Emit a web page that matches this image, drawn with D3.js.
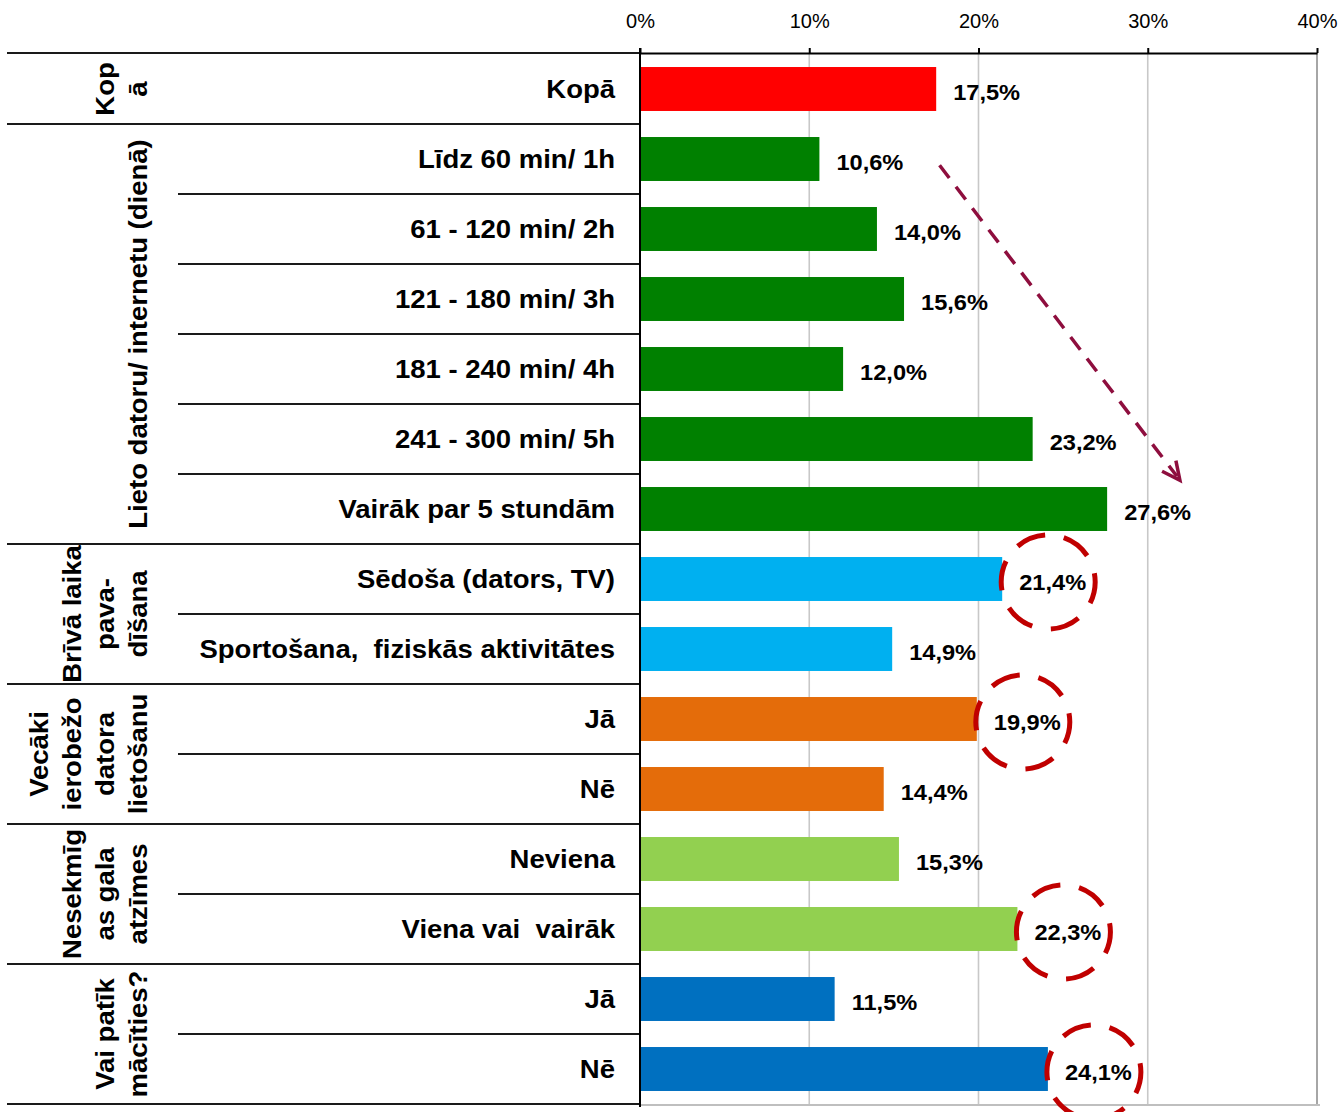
<!DOCTYPE html>
<html><head><meta charset="utf-8">
<script src="https://cdn.jsdelivr.net/npm/d3@7"></script>
<style>
html,body{margin:0;padding:0;background:#fff;}
svg{display:block;font-family:"Liberation Sans",Arial,sans-serif;}
svg text{white-space:pre;}
</style></head>
<body>
<svg id="chart" width="1341" height="1112"></svg>
<script>
// ---- data ----
const categories = ["Kopā","Līdz 60 min/ 1h","61 - 120 min/ 2h","121 - 180 min/ 3h","181 - 240 min/ 4h","241 - 300 min/ 5h","Vairāk par 5 stundām","Sēdoša (dators, TV)","Sportošana,  fiziskās aktivitātes","Jā","Nē","Neviena","Viena vai  vairāk","Jā","Nē"];
const values = [17.5,10.6,14.0,15.6,12.0,23.2,27.6,21.4,14.9,19.9,14.4,15.3,22.3,11.5,24.1];
const groupLabels = [["Kop","ā"],["Lieto datoru/ internetu (dienā)"],["Brīvā laika","pava-","dīšana"],["Vecāki","ierobežo","datora","lietošanu"],["Nesekmīg","as gala","atzīmes"],["Vai patīk","mācīties?"]];
const groupSizes = [1,6,2,2,2,2];
const groupColors = ["#FF0000","#008000","#00B0F0","#E46C0A","#92D050","#0070C0"];
const tickValues = [0,10,20,30,40];
const circled = [7,9,12,14];
// trend arrow: from (value %, row position) to (value %, row position)
const arrowFrom = [17.7,1.59];
const arrowTo = [31.9,6.09];

const svg = d3.select("#chart");
const font = '"Liberation Sans",Arial,sans-serif';
const x = d3.scaleLinear().domain([0,40]).range([640,1317]);
const rowIdx = d3.range(categories.length);
const y = d3.scaleBand().domain(rowIdx).range([54,1104]).paddingInner(0.372).paddingOuter(0.186);
const rowH = y.step();
const rowTop = i => 54 + i*rowH;
const fmt = v => d3.format(".1f")(v).replace(".",",")+"%";

const groupOf = [];
groupSizes.forEach((n,g)=>{for(let k=0;k<n;k++) groupOf.push(g);});
const groupStart = groupSizes.map((n,g)=>d3.sum(groupSizes.slice(0,g)));

// gridlines
svg.append("g").selectAll("line").data(tickValues.filter(d=>d>0)).join("line")
  .attr("x1",d=>x(d)).attr("x2",d=>x(d)).attr("y1",53).attr("y2",1104)
  .attr("stroke",d=>d===40?"#A6A6A6":"#C8C8C8").attr("stroke-width",d=>d===40?2:1.6);
svg.append("line").attr("x1",640).attr("x2",1320).attr("y1",1105).attr("y2",1105).attr("stroke","#BFBFBF").attr("stroke-width",2);

// bars
svg.append("g").selectAll("rect").data(rowIdx).join("rect")
  .attr("x",x(0)).attr("y",i=>y(i)).attr("width",i=>x(values[i])-x(0)).attr("height",y.bandwidth())
  .attr("fill",i=>groupColors[groupOf[i]]);

// top axis
const ax = svg.append("g").attr("transform","translate(0,53)")
  .call(d3.axisTop(x).tickValues(tickValues).tickSize(5).tickSizeOuter(0).tickFormat(d=>d+"%"));
ax.select(".domain").attr("stroke","#000").attr("stroke-width",2);
ax.selectAll(".tick line").attr("stroke","#000").attr("stroke-width",2);
ax.selectAll(".tick text").attr("y",-25).attr("dy",0).attr("font-size",20).attr("font-family",font).attr("fill","#000");

// left table lines
const tbl = svg.append("g").attr("stroke","#1a1a1a").attr("stroke-width",2);
tbl.append("line").attr("x1",7).attr("x2",640).attr("y1",53).attr("y2",53);
for(let i=1;i<=categories.length;i++){
  const isGroup = groupStart.includes(i) || i===categories.length;
  tbl.append("line").attr("x1",isGroup?7:178).attr("x2",i===categories.length?640:634)
    .attr("y1",rowTop(i)).attr("y2",rowTop(i));
  if(i<categories.length) tbl.append("line").attr("x1",632).attr("x2",640).attr("y1",rowTop(i)).attr("y2",rowTop(i));
}
svg.append("line").attr("x1",640).attr("x2",640).attr("y1",48).attr("y2",1107).attr("stroke","#000").attr("stroke-width",2);

// category labels
svg.append("g").selectAll("text").data(rowIdx).join("text")
  .attr("transform",i=>`translate(615,${y(i)+y.bandwidth()/2+9}) scale(1.1,1)`)
  .attr("text-anchor","end").attr("font-size",25).attr("font-weight","bold").attr("font-family",font)
  .text(i=>categories[i]);

// value labels
svg.append("g").selectAll("text").data(rowIdx).join("text")
  .attr("transform",i=>`translate(${x(values[i])+17},${y(i)+y.bandwidth()/2+10.5}) scale(1.05,1)`)
  .attr("font-size",22.5).attr("font-weight","bold").attr("font-family",font)
  .text(i=>fmt(values[i]));

// group labels (rotated)
groupLabels.forEach((lines,g)=>{
  const cy = rowTop(groupStart[g]) + groupSizes[g]*rowH/2;
  const n = lines.length;
  lines.forEach((t,k)=>{
    const bx = 147 - (n-1-k)*33;
    svg.append("text").attr("transform",`translate(${bx},${cy}) rotate(-90) scale(1.1,1)`)
      .attr("text-anchor","middle").attr("font-size",25).attr("font-weight","bold").attr("font-family",font)
      .text(t);
  });
});

// dashed circles
svg.append("g").selectAll("circle").data(circled).join("circle")
  .attr("cx",i=>x(values[i])+46).attr("cy",i=>y(i)+y.bandwidth()/2+3)
  .attr("r",47).attr("fill","none").attr("stroke","#C00000").attr("stroke-width",5)
  .attr("stroke-dasharray","30 19").attr("stroke-dashoffset",8);

// trend arrow
const ax1 = x(arrowFrom[0]), ay1 = rowTop(arrowFrom[1]);
const ax2 = x(arrowTo[0]), ay2 = rowTop(arrowTo[1]);
const ac = "#8E0E3E";
svg.append("line").attr("x1",ax1).attr("y1",ay1).attr("x2",ax2-3).attr("y2",ay2-4)
  .attr("stroke",ac).attr("stroke-width",3.5).attr("stroke-dasharray","16 11");
const ang = Math.atan2(ay2-ay1, ax2-ax1);
const hl = 20, spread = 0.45;
const p1 = [ax2 - hl*Math.cos(ang-spread), ay2 - hl*Math.sin(ang-spread)];
const p2 = [ax2 - hl*Math.cos(ang+spread), ay2 - hl*Math.sin(ang+spread)];
svg.append("path").attr("d",`M${p1[0]},${p1[1]} L${ax2},${ay2} L${p2[0]},${p2[1]}`)
  .attr("fill","none").attr("stroke",ac).attr("stroke-width",3.5).attr("stroke-linejoin","miter");
</script>
</body></html>
